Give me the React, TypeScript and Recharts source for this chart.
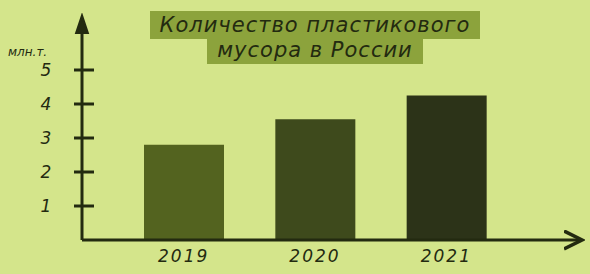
import React from 'react';
import { BarChart, Bar, XAxis, YAxis, Cell } from 'recharts';

const years = ['2019', '2020', '2021'];
const waste = [2.8, 3.55, 4.25];
const barColors = ['#53631f', '#3e4a1c', '#2c3318'];
const yTicks = [1, 2, 3, 4, 5];

const data = years.map((year, i) => ({ year, waste: waste[i] }));

const ink = '#232a10';
const hand = '"DejaVu Sans", sans-serif';

const YTick = (props: any) => {
    const { x, y, payload } = props;
    return (
        <g>
            <line x1={x} y1={y} x2={x + 20} y2={y} stroke={ink} strokeWidth={3} />
            <text x={x - 28} y={y} dy={6} textAnchor="middle" fill={ink} fontSize={17} fontStyle="italic" fontFamily={hand}>
                {payload.value}
            </text>
        </g>
    );
};

const XTick = (props: any) => {
    const { x, y, payload } = props;
    return (
        <text x={x} y={y} dy={14} textAnchor="middle" fill={ink} fontSize={17} fontStyle="italic" fontFamily={hand} letterSpacing={2}>
            {payload.value}
        </text>
    );
};

const App: React.FC = () => {
    return (
        <div style={{ position: 'absolute', left: 0, top: 0, width: 590, height: 274, background: '#d4e58b', overflow: 'hidden' }}>
            <BarChart width={590} height={274} data={data} margin={{ top: 19, right: 8, bottom: 4, left: 12 }}>
                <defs>
                    <marker id="arrowX" markerWidth="7" markerHeight="7" refX="6" refY="3.5" orient="auto" markerUnits="strokeWidth">
                        <path d="M0,0.5 L6,3.5 L0,6.5" fill="none" stroke={ink} strokeWidth={1.2} />
                    </marker>
                    <marker id="arrowY" markerWidth="7" markerHeight="6" refX="5" refY="3" orient="auto-start-reverse" markerUnits="strokeWidth">
                        <path d="M0,1 L6,3 L0,5 Z" fill={ink} stroke={ink} strokeWidth={0.8} />
                    </marker>
                </defs>
                <XAxis
                    dataKey="year"
                    height={30}
                    padding={{ left: 36, right: 70 }}
                    axisLine={{ stroke: ink, strokeWidth: 3, markerEnd: 'url(#arrowX)' }}
                    tickLine={false}
                    tick={<XTick />}
                    interval={0}
                />
                <YAxis
                    type="number"
                    domain={[0, 6.5]}
                    ticks={yTicks}
                    width={70}
                    axisLine={{ stroke: ink, strokeWidth: 3, markerStart: 'url(#arrowY)' }}
                    tickLine={false}
                    tick={<YTick />}
                    label={{ value: 'млн.т.', position: 'insideTopLeft', offset: 0, dy: 28, dx: -4, fill: ink, fontSize: 12, fontStyle: 'italic', fontFamily: hand }}
                />
                <Bar dataKey="waste" barSize={80} isAnimationActive={false}>
                    {data.map((d, i) => (
                        <Cell key={d.year} fill={barColors[i]} />
                    ))}
                </Bar>
            </BarChart>
            <div
                style={{
                    position: 'absolute',
                    left: 20,
                    top: 13,
                    width: 590,
                    textAlign: 'center',
                    fontFamily: hand,
                    fontStyle: 'italic',
                    fontSize: 21,
                    lineHeight: '25px',
                    color: ink,
                    letterSpacing: 1,
                }}
            >
                <span style={{ background: '#8ca33c', padding: '2px 10px' }}>Количество пластикового</span>
                <br />
                <span style={{ background: '#8ca33c', padding: '2px 10px' }}>мусора в России</span>
            </div>
        </div>
    );
};

export default App;
